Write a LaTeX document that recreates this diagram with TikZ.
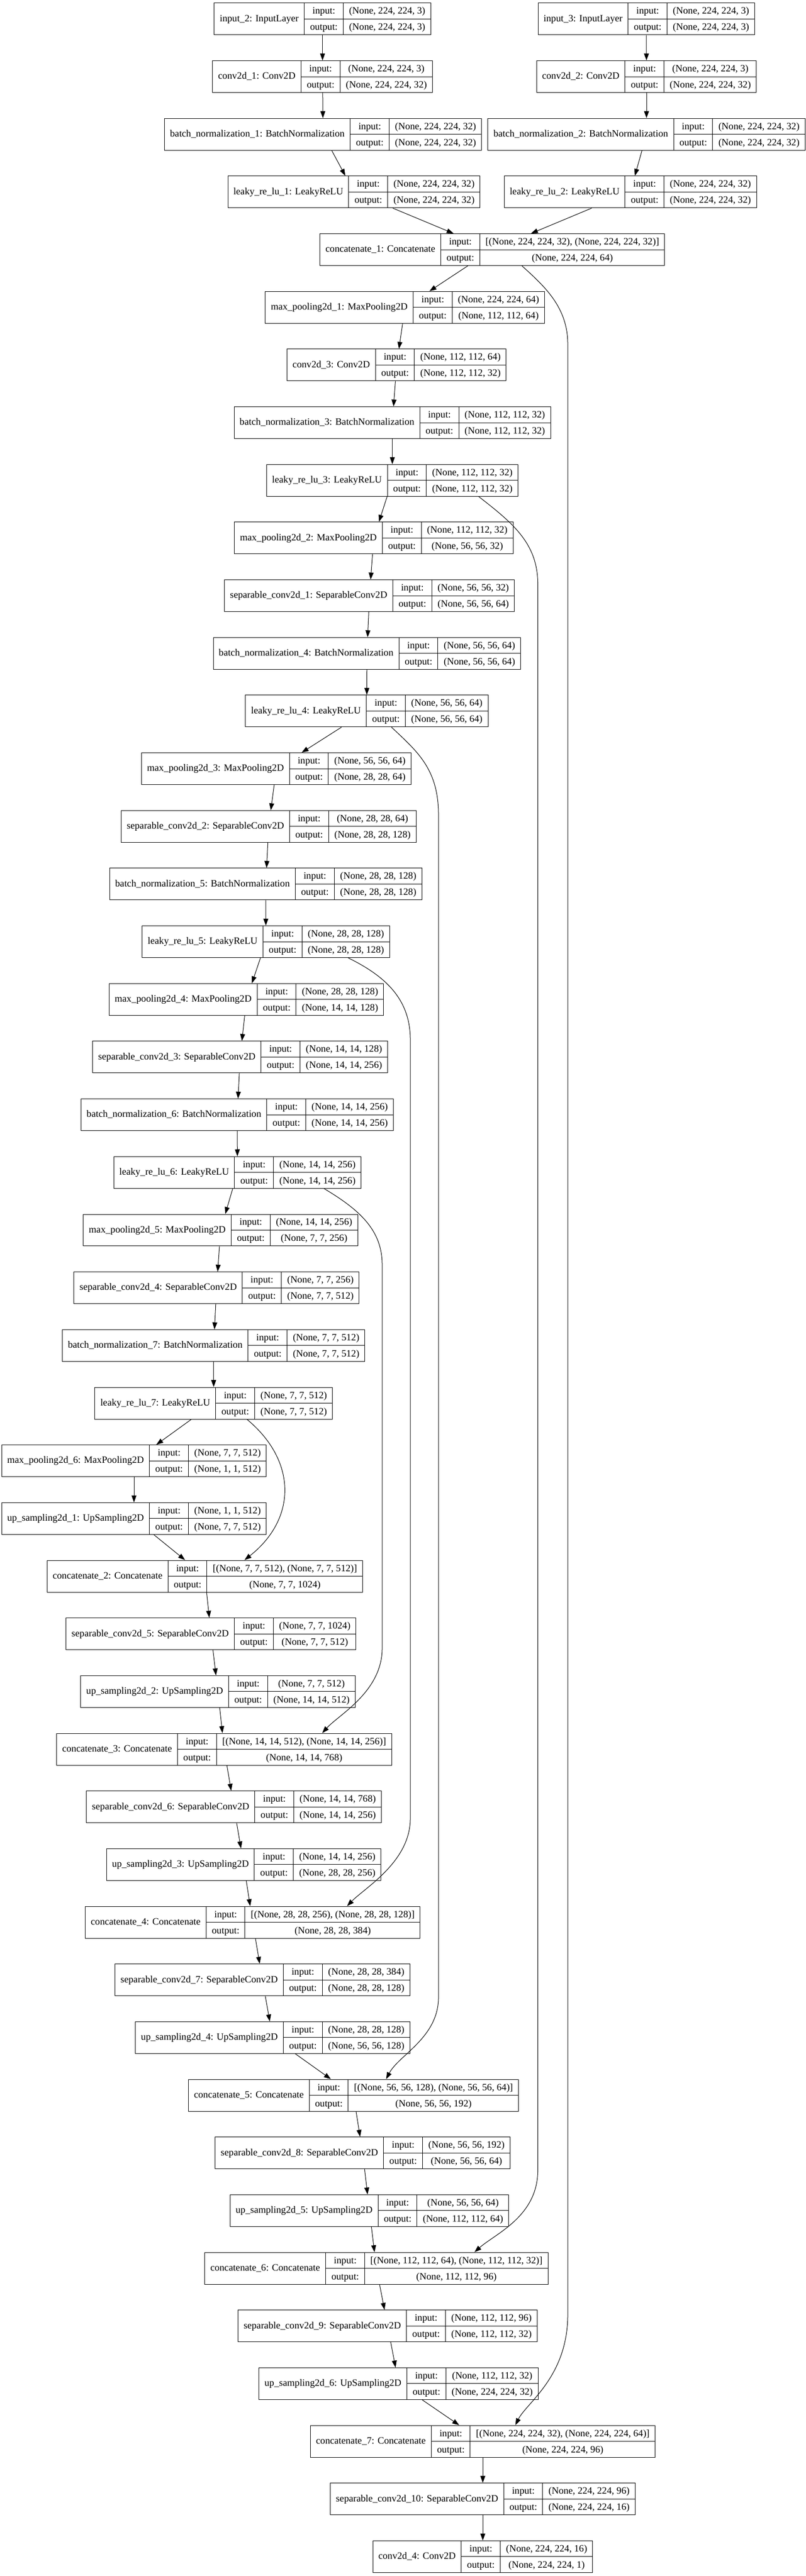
\documentclass[tikz,border=0pt]{standalone}
\usepackage{fontspec}
\setmainfont{Liberation Serif}
\usepackage{tikz}
\usetikzlibrary{arrows.meta}

\renewcommand{\arraystretch}{1.339}
\setlength{\arrayrulewidth}{0.75pt}
% two stacked cells: input over output
\newcommand{\iocol}[2]{\begin{tabular}{@{\hspace{8pt}}c@{\hspace{8pt}}}#1\\\hline #2\end{tabular}}
% one keras layer record: name | input:/output: | shapes
\newcommand{\layerbox}[3]{\begin{tabular}{@{\hspace{8pt}}c@{\hspace{8pt}}|@{}c@{}|@{}c@{}}#1&\iocol{input:}{output:}&\iocol{#2}{#3}\end{tabular}}

\begin{document}
\begin{tikzpicture}[>={Triangle[length=10pt,width=7pt]}, line width=0.75pt, x=0.75pt, y=-83pt,
    layer/.style={draw, rectangle, inner sep=0pt, font={\fontsize{14pt}{16.8pt}\selectfont}}]
    \useasboundingbox (0,-0.3285) rectangle (1545,44.335);

    % two input branches
    \node[layer] (in2) at (618.6,0) {\layerbox{input\_2: InputLayer}{(None, 224, 224, 3)}{(None, 224, 224, 3)}};
    \node[layer] (in3) at (1239.7,0) {\layerbox{input\_3: InputLayer}{(None, 224, 224, 3)}{(None, 224, 224, 3)}};
    \node[layer] (conv1) at (618.6,1) {\layerbox{conv2d\_1: Conv2D}{(None, 224, 224, 3)}{(None, 224, 224, 32)}};
    \node[layer] (conv2) at (1240,1) {\layerbox{conv2d\_2: Conv2D}{(None, 224, 224, 3)}{(None, 224, 224, 32)}};
    \node[layer] (bn1) at (619.6,2) {\layerbox{batch\_normalization\_1: BatchNormalization}{(None, 224, 224, 32)}{(None, 224, 224, 32)}};
    \node[layer] (bn2) at (1240,2) {\layerbox{batch\_normalization\_2: BatchNormalization}{(None, 224, 224, 32)}{(None, 224, 224, 32)}};
    \node[layer] (lrelu1) at (679,3) {\layerbox{leaky\_re\_lu\_1: LeakyReLU}{(None, 224, 224, 32)}{(None, 224, 224, 32)}};
    \node[layer] (lrelu2) at (1209,3) {\layerbox{leaky\_re\_lu\_2: LeakyReLU}{(None, 224, 224, 32)}{(None, 224, 224, 32)}};
    \node[layer] (cat1) at (944.3,4) {\layerbox{concatenate\_1: Concatenate}{[(None, 224, 224, 32), (None, 224, 224, 32)]}{(None, 224, 224, 64)}};

    % encoder
    \node[layer] (pool1) at (776.7,5) {\layerbox{max\_pooling2d\_1: MaxPooling2D}{(None, 224, 224, 64)}{(None, 112, 112, 64)}};
    \node[layer] (conv3) at (760.7,6) {\layerbox{conv2d\_3: Conv2D}{(None, 112, 112, 64)}{(None, 112, 112, 32)}};
    \node[layer] (bn3) at (752.5,7) {\layerbox{batch\_normalization\_3: BatchNormalization}{(None, 112, 112, 32)}{(None, 112, 112, 32)}};
    \node[layer] (lrelu3) at (752.5,8) {\layerbox{leaky\_re\_lu\_3: LeakyReLU}{(None, 112, 112, 32)}{(None, 112, 112, 32)}};
    \node[layer] (pool2) at (716.8,9) {\layerbox{max\_pooling2d\_2: MaxPooling2D}{(None, 112, 112, 32)}{(None, 56, 56, 32)}};
    \node[layer] (sep1) at (708.6,10) {\layerbox{separable\_conv2d\_1: SeparableConv2D}{(None, 56, 56, 32)}{(None, 56, 56, 64)}};
    \node[layer] (bn4) at (703.8,11) {\layerbox{batch\_normalization\_4: BatchNormalization}{(None, 56, 56, 64)}{(None, 56, 56, 64)}};
    \node[layer] (lrelu4) at (703.5,12) {\layerbox{leaky\_re\_lu\_4: LeakyReLU}{(None, 56, 56, 64)}{(None, 56, 56, 64)}};
    \node[layer] (pool3) at (530,13) {\layerbox{max\_pooling2d\_3: MaxPooling2D}{(None, 56, 56, 64)}{(None, 28, 28, 64)}};
    \node[layer] (sep2) at (515.3,14) {\layerbox{separable\_conv2d\_2: SeparableConv2D}{(None, 28, 28, 64)}{(None, 28, 28, 128)}};
    \node[layer] (bn5) at (509.7,15) {\layerbox{batch\_normalization\_5: BatchNormalization}{(None, 28, 28, 128)}{(None, 28, 28, 128)}};
    \node[layer] (lrelu5) at (510,16) {\layerbox{leaky\_re\_lu\_5: LeakyReLU}{(None, 28, 28, 128)}{(None, 28, 28, 128)}};
    \node[layer] (pool4) at (472.7,17) {\layerbox{max\_pooling2d\_4: MaxPooling2D}{(None, 28, 28, 128)}{(None, 14, 14, 128)}};
    \node[layer] (sep3) at (460.6,18) {\layerbox{separable\_conv2d\_3: SeparableConv2D}{(None, 14, 14, 128)}{(None, 14, 14, 256)}};
    \node[layer] (bn6) at (455,19) {\layerbox{batch\_normalization\_6: BatchNormalization}{(None, 14, 14, 256)}{(None, 14, 14, 256)}};
    \node[layer] (lrelu6) at (455.4,20) {\layerbox{leaky\_re\_lu\_6: LeakyReLU}{(None, 14, 14, 256)}{(None, 14, 14, 256)}};
    \node[layer] (pool5) at (423,21) {\layerbox{max\_pooling2d\_5: MaxPooling2D}{(None, 14, 14, 256)}{(None, 7, 7, 256)}};
    \node[layer] (sep4) at (415.4,22) {\layerbox{separable\_conv2d\_4: SeparableConv2D}{(None, 7, 7, 256)}{(None, 7, 7, 512)}};
    \node[layer] (bn7) at (409.8,23) {\layerbox{batch\_normalization\_7: BatchNormalization}{(None, 7, 7, 512)}{(None, 7, 7, 512)}};
    \node[layer] (lrelu7) at (409.8,24) {\layerbox{leaky\_re\_lu\_7: LeakyReLU}{(None, 7, 7, 512)}{(None, 7, 7, 512)}};
    \node[layer] (pool6) at (257,25) {\layerbox{max\_pooling2d\_6: MaxPooling2D}{(None, 7, 7, 512)}{(None, 1, 1, 512)}};

    % decoder
    \node[layer] (up1) at (257,26) {\layerbox{up\_sampling2d\_1: UpSampling2D}{(None, 1, 1, 512)}{(None, 7, 7, 512)}};
    \node[layer] (cat2) at (393,27) {\layerbox{concatenate\_2: Concatenate}{[(None, 7, 7, 512), (None, 7, 7, 512)]}{(None, 7, 7, 1024)}};
    \node[layer] (sep5) at (404.7,28) {\layerbox{separable\_conv2d\_5: SeparableConv2D}{(None, 7, 7, 1024)}{(None, 7, 7, 512)}};
    \node[layer] (up2) at (418,29) {\layerbox{up\_sampling2d\_2: UpSampling2D}{(None, 7, 7, 512)}{(None, 14, 14, 512)}};
    \node[layer] (cat3) at (430,30) {\layerbox{concatenate\_3: Concatenate}{[(None, 14, 14, 512), (None, 14, 14, 256)]}{(None, 14, 14, 768)}};
    \node[layer] (sep6) at (448.6,31) {\layerbox{separable\_conv2d\_6: SeparableConv2D}{(None, 14, 14, 768)}{(None, 14, 14, 256)}};
    \node[layer] (up3) at (467.5,32) {\layerbox{up\_sampling2d\_3: UpSampling2D}{(None, 14, 14, 256)}{(None, 28, 28, 256)}};
    \node[layer] (cat4) at (484.7,33) {\layerbox{concatenate\_4: Concatenate}{[(None, 28, 28, 256), (None, 28, 28, 128)]}{(None, 28, 28, 384)}};
    \node[layer] (sep7) at (503.3,34) {\layerbox{separable\_conv2d\_7: SeparableConv2D}{(None, 28, 28, 384)}{(None, 28, 28, 128)}};
    \node[layer] (up4) at (523,35) {\layerbox{up\_sampling2d\_4: UpSampling2D}{(None, 28, 28, 128)}{(None, 56, 56, 128)}};
    \node[layer] (cat5) at (678,36) {\layerbox{concatenate\_5: Concatenate}{[(None, 56, 56, 128), (None, 56, 56, 64)]}{(None, 56, 56, 192)}};
    \node[layer] (sep8) at (695.6,37) {\layerbox{separable\_conv2d\_8: SeparableConv2D}{(None, 56, 56, 192)}{(None, 56, 56, 64)}};
    \node[layer] (up5) at (708.6,38) {\layerbox{up\_sampling2d\_5: UpSampling2D}{(None, 56, 56, 64)}{(None, 112, 112, 64)}};
    \node[layer] (cat6) at (722,39) {\layerbox{concatenate\_6: Concatenate}{[(None, 112, 112, 64), (None, 112, 112, 32)]}{(None, 112, 112, 96)}};
    \node[layer] (sep9) at (743.5,40) {\layerbox{separable\_conv2d\_9: SeparableConv2D}{(None, 112, 112, 96)}{(None, 112, 112, 32)}};
    \node[layer] (up6) at (764.6,41) {\layerbox{up\_sampling2d\_6: UpSampling2D}{(None, 112, 112, 32)}{(None, 224, 224, 32)}};
    \node[layer] (cat7) at (926,42) {\layerbox{concatenate\_7: Concatenate}{[(None, 224, 224, 32), (None, 224, 224, 64)]}{(None, 224, 224, 96)}};
    \node[layer] (sep10) at (926,43) {\layerbox{separable\_conv2d\_10: SeparableConv2D}{(None, 224, 224, 96)}{(None, 224, 224, 16)}};
    \node[layer] (conv4) at (926,44) {\layerbox{conv2d\_4: Conv2D}{(None, 224, 224, 16)}{(None, 224, 224, 1)}};

    % input branches
    \draw[->] (in2) -- (conv1);
    \draw[->] (conv1) -- (bn1);
    \draw[->] (bn1) -- (lrelu1);
    \draw[->] (in3) -- (conv2);
    \draw[->] (conv2) -- (bn2);
    \draw[->] (bn2) -- (lrelu2);
    \draw[->] (lrelu1) -- (cat1);
    \draw[->] (lrelu2) -- (cat1);

    % main chain down
    \draw[->] (cat1) -- (pool1);
    \draw[->] (pool1) -- (conv3);
    \draw[->] (conv3) -- (bn3);
    \draw[->] (bn3) -- (lrelu3);
    \draw[->] (lrelu3) -- (pool2);
    \draw[->] (pool2) -- (sep1);
    \draw[->] (sep1) -- (bn4);
    \draw[->] (bn4) -- (lrelu4);
    \draw[->] (lrelu4) -- (pool3);
    \draw[->] (pool3) -- (sep2);
    \draw[->] (sep2) -- (bn5);
    \draw[->] (bn5) -- (lrelu5);
    \draw[->] (lrelu5) -- (pool4);
    \draw[->] (pool4) -- (sep3);
    \draw[->] (sep3) -- (bn6);
    \draw[->] (bn6) -- (lrelu6);
    \draw[->] (lrelu6) -- (pool5);
    \draw[->] (pool5) -- (sep4);
    \draw[->] (sep4) -- (bn7);
    \draw[->] (bn7) -- (lrelu7);
    \draw[->] (lrelu7) -- (pool6);
    \draw[->] (pool6) -- (up1);

    % main chain up
    \draw[->] (up1) -- (cat2);
    \draw[->] (cat2) -- (sep5);
    \draw[->] (sep5) -- (up2);
    \draw[->] (up2) -- (cat3);
    \draw[->] (cat3) -- (sep6);
    \draw[->] (sep6) -- (up3);
    \draw[->] (up3) -- (cat4);
    \draw[->] (cat4) -- (sep7);
    \draw[->] (sep7) -- (up4);
    \draw[->] (up4) -- (cat5);
    \draw[->] (cat5) -- (sep8);
    \draw[->] (sep8) -- (up5);
    \draw[->] (up5) -- (cat6);
    \draw[->] (cat6) -- (sep9);
    \draw[->] (sep9) -- (up6);
    \draw[->] (up6) -- (cat7);
    \draw[->] (cat7) -- (sep10);
    \draw[->] (sep10) -- (conv4);

    % skip connections
    \draw[->] ([xshift=42.5pt]cat1.south) .. controls (1045,4.64) and (1089,5.0) .. (1089,5.64) -- (1089,39.8) .. controls (1089,40.88) and (1010,41.33) .. ([xshift=46.8pt]cat7.north);
    \draw[->] ([xshift=124.1pt]lrelu3.south) .. controls (985,8.75) and (1031.5,9.1) .. (1031.5,9.8) -- (1031.5,37.3) .. controls (1031.5,38.1) and (950,38.4) .. ([xshift=141pt]cat6.north);
    \draw[->] ([xshift=35.6pt]lrelu4.south) .. controls (800,12.7) and (841,13.0) .. (841,13.8) -- (841,34.3) .. controls (841,35.0) and (765,35.3) .. ([xshift=46.9pt]cat5.north);
    \draw[->] ([xshift=118.5pt]lrelu5.south) .. controls (740,16.6) and (787,17.0) .. (787,17.7) -- (787,31.2) .. controls (787,31.95) and (700,32.4) .. ([xshift=135.7pt]cat4.north);
    \draw[->] ([xshift=124.7pt]lrelu6.south) .. controls (690,20.65) and (733,21.0) .. (733,21.6) -- (733,28.25) .. controls (733,29.0) and (650,29.4) .. ([xshift=141pt]cat3.north);
    \draw[->] ([xshift=47.9pt]lrelu7.south) .. controls (569.6,25.0) and (569.6,26.0) .. ([xshift=57pt]cat2.north);
\end{tikzpicture}
\end{document}
